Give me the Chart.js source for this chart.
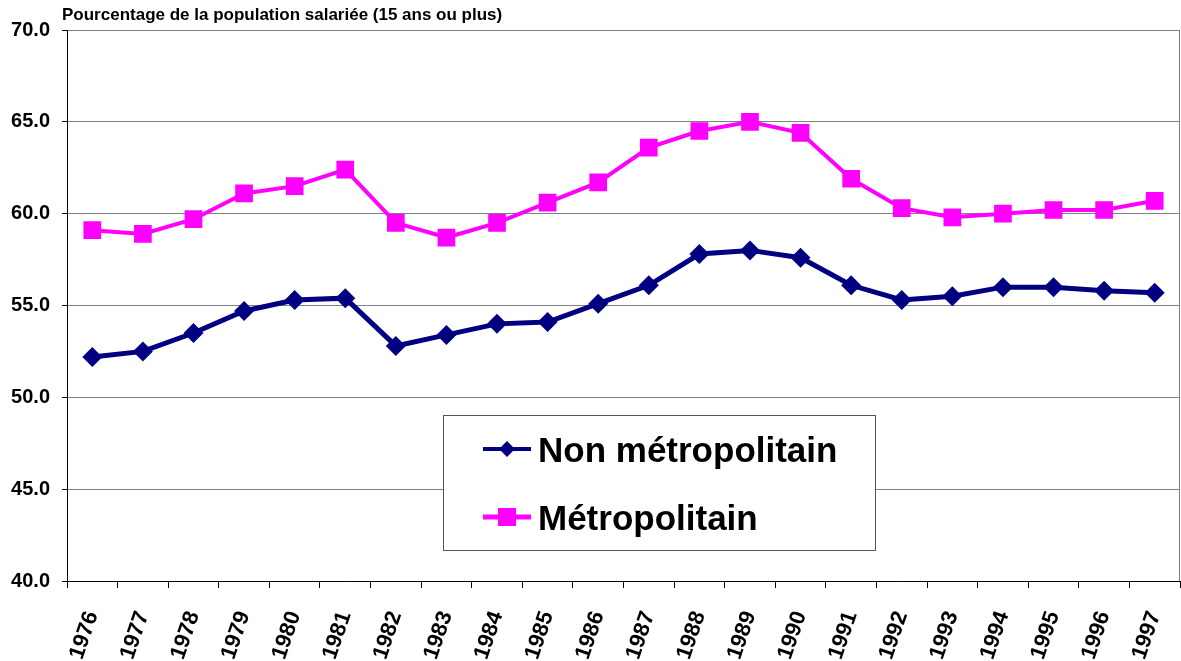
<!DOCTYPE html>
<html>
<head>
<meta charset="utf-8">
<script src="https://cdn.jsdelivr.net/npm/chart.js@4/dist/chart.umd.min.js"></script>
<style>
  html, body { margin: 0; padding: 0; background: #fff; overflow: hidden; }
  #c { display: block; }
</style>
</head>
<body>
<canvas id="c" width="1181" height="661"></canvas>
<script>
const years = ['1976','1977','1978','1979','1980','1981','1982','1983','1984','1985','1986',
  '1987','1988','1989','1990','1991','1992','1993','1994','1995','1996','1997'];
const nonMetro = [52.2, 52.5, 53.5, 54.7, 55.3, 55.4, 52.8, 53.4, 54.0, 54.1, 55.1,
  56.1, 57.8, 58.0, 57.6, 56.1, 55.3, 55.5, 56.0, 56.0, 55.8, 55.7];
const metro = [59.1, 58.9, 59.7, 61.1, 61.5, 62.4, 59.5, 58.7, 59.5, 60.6, 61.7,
  63.6, 64.5, 65.0, 64.4, 61.9, 60.3, 59.8, 60.0, 60.2, 60.2, 60.7];
const seriesNames = ['Non métropolitain', 'Métropolitain'];
const seriesColors = ['#000080', '#ff00ff'];
const yTitle = 'Pourcentage de la population salariée (15 ans ou plus)';

const FONT = 'Arial, "Liberation Sans", sans-serif';

// legend box + frame + title, drawn on top
const extras = {
  id: 'extras',
  afterDraw(chart) {
    const ctx = chart.ctx;
    const a = chart.chartArea;
    ctx.save();
    // right frame line
    ctx.strokeStyle = '#808080';
    ctx.lineWidth = 1;
    ctx.beginPath();
    ctx.moveTo(a.right - 0.5, a.top);
    ctx.lineTo(a.right - 0.5, a.bottom);
    ctx.stroke();

    // title
    ctx.fillStyle = '#000';
    ctx.font = 'bold 17px ' + FONT;
    ctx.textBaseline = 'alphabetic';
    ctx.textAlign = 'left';
    ctx.fillText(yTitle, 62, 20);

    // legend box
    const bx = 443, by = 415, bw = 432, bh = 135;
    ctx.fillStyle = '#fff';
    ctx.fillRect(bx, by, bw, bh);
    ctx.strokeStyle = '#555';
    ctx.lineWidth = 1;
    ctx.strokeRect(bx + 0.5, by + 0.5, bw, bh);

    const rows = [449, 517];
    rows.forEach((yy, i) => {
      ctx.strokeStyle = seriesColors[i];
      ctx.fillStyle = seriesColors[i];
      ctx.lineWidth = i === 0 ? 4 : 5;
      ctx.beginPath();
      ctx.moveTo(483, yy);
      ctx.lineTo(531, yy);
      ctx.stroke();
      if (i === 0) {
        ctx.beginPath();
        ctx.moveTo(507, yy - 8);
        ctx.lineTo(515, yy);
        ctx.lineTo(507, yy + 8);
        ctx.lineTo(499, yy);
        ctx.closePath();
        ctx.fill();
      } else {
        ctx.fillRect(498, yy - 9, 18, 18);
      }
      ctx.fillStyle = '#000';
      ctx.font = 'bold 35px ' + FONT;
      ctx.textBaseline = 'middle';
      ctx.fillText(seriesNames[i], 538, yy + 3);
    });
    ctx.restore();
  }
};

const noPad = () => ({ left: 0, top: 0, right: 0, bottom: 0 });

new Chart(document.getElementById('c'), {
  type: 'line',
  data: {
    labels: years,
    datasets: [
      {
        label: seriesNames[0],
        data: nonMetro,
        borderColor: seriesColors[0],
        backgroundColor: seriesColors[0],
        borderWidth: 5,
        pointStyle: 'rectRot',
        pointRadius: 10,
        pointHoverRadius: 10,
        pointBorderWidth: 0,
        tension: 0
      },
      {
        label: seriesNames[1],
        data: metro,
        borderColor: seriesColors[1],
        backgroundColor: seriesColors[1],
        borderWidth: 4,
        pointStyle: 'rect',
        pointRadius: 12.5,
        pointHoverRadius: 12.5,
        pointBorderWidth: 0,
        tension: 0
      }
    ]
  },
  options: {
    responsive: false,
    maintainAspectRatio: false,
    animation: false,
    events: [],
    layout: { autoPadding: false, padding: { top: 30, right: 1, left: 0, bottom: 0 } },
    plugins: {
      legend: { display: false },
      title: { display: false },
      tooltip: { enabled: false }
    },
    scales: {
      x: {
        offset: true,
        grid: {
          offset: true,
          drawOnChartArea: false,
          drawTicks: true,
          tickLength: 7,
          tickColor: '#000',
          color: '#000'
        },
        border: { color: '#000', width: 1 },
        ticks: {
          color: '#000',
          font: { family: FONT, size: 22, weight: 'bold' },
          minRotation: 71,
          maxRotation: 71,
          autoSkip: false,
          padding: 20
        },
        afterFit(s) {
          s.height = 80;
          s.paddingLeft = 0;
          s.paddingRight = 0;
          s.getPadding = noPad;
        }
      },
      y: {
        min: 40,
        max: 70,
        ticks: {
          stepSize: 5,
          color: '#000',
          font: { family: FONT, size: 20, weight: 'bold' },
          padding: 12,
          callback: v => v.toFixed(1)
        },
        grid: {
          color: '#808080',
          tickColor: '#000',
          tickLength: 5,
          drawTicks: true
        },
        border: { color: '#000', width: 1 },
        afterFit(s) { s.width = 67; s.getPadding = noPad; }
      }
    }
  },
  plugins: [extras]
});
</script>
</body>
</html>
